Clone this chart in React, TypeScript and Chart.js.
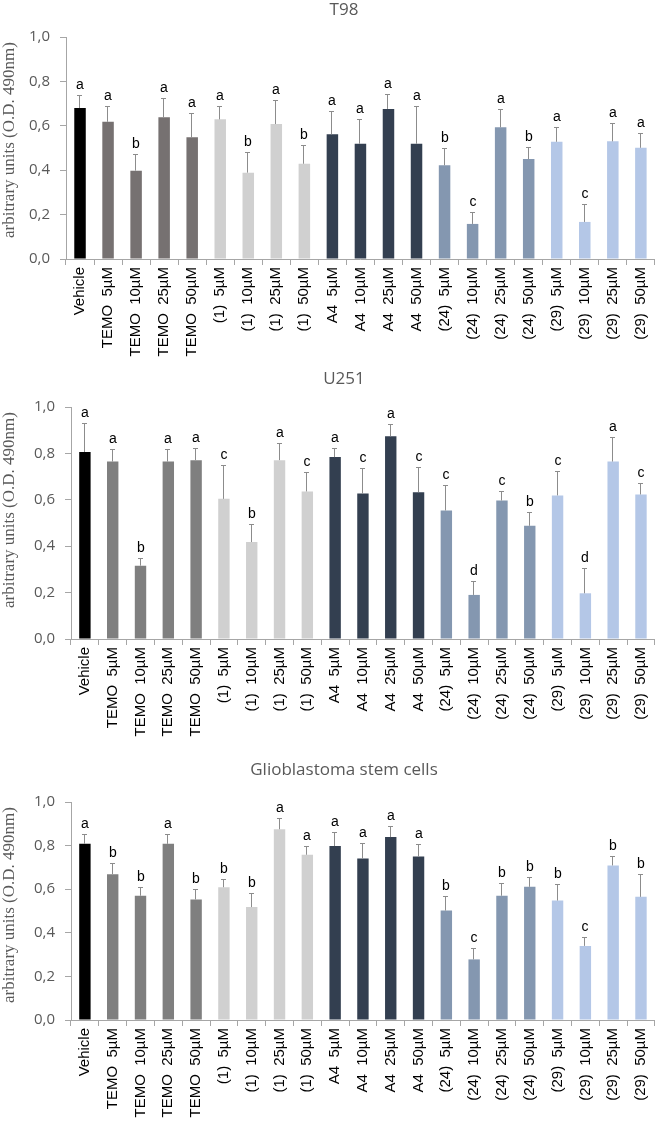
import React, { useEffect, useRef } from "react";
import { Chart, registerables } from "chart.js";
Chart.register(...registerables);

// ---------- data ----------
const categories = [
  "Vehicle",
  "TEMO  5µM", "TEMO  10µM", "TEMO  25µM", "TEMO  50µM",
  "(1)  5µM", "(1)  10µM", "(1)  25µM", "(1)  50µM",
  "A4  5µM", "A4  10µM", "A4  25µM", "A4  50µM",
  "(24)  5µM", "(24)  10µM", "(24)  25µM", "(24)  50µM",
  "(29)  5µM", "(29)  10µM", "(29)  25µM", "(29)  50µM",
];

const yTickValues = [0, 0.2, 0.4, 0.6, 0.8, 1.0];

const t98Values = [0.68, 0.618, 0.398, 0.638, 0.548, 0.629, 0.389, 0.608, 0.429, 0.562, 0.519, 0.676, 0.519, 0.422, 0.158, 0.593, 0.45, 0.528, 0.167, 0.53, 0.501];
const t98Errors = [0.06, 0.069, 0.075, 0.087, 0.11, 0.061, 0.091, 0.109, 0.084, 0.103, 0.111, 0.069, 0.171, 0.078, 0.054, 0.083, 0.053, 0.068, 0.081, 0.081, 0.066];
const t98Letters = ["a", "a", "b", "a", "a", "a", "b", "a", "b", "a", "a", "a", "a", "b", "c", "a", "b", "a", "c", "a", "a"];

const u251Values = [0.806, 0.765, 0.316, 0.765, 0.771, 0.604, 0.418, 0.771, 0.636, 0.784, 0.627, 0.874, 0.633, 0.554, 0.19, 0.597, 0.488, 0.619, 0.197, 0.765, 0.623];
const u251Errors = [0.127, 0.056, 0.035, 0.052, 0.054, 0.144, 0.076, 0.074, 0.083, 0.041, 0.108, 0.054, 0.109, 0.109, 0.06, 0.04, 0.06, 0.106, 0.108, 0.106, 0.05];
const u251Letters = ["a", "a", "b", "a", "a", "c", "b", "a", "c", "a", "c", "a", "c", "c", "d", "c", "b", "c", "d", "a", "c"];

const gscValues = [0.808, 0.669, 0.57, 0.808, 0.553, 0.609, 0.518, 0.875, 0.758, 0.798, 0.741, 0.839, 0.75, 0.502, 0.278, 0.57, 0.611, 0.548, 0.34, 0.709, 0.565];
const gscErrors = [0.043, 0.05, 0.039, 0.043, 0.047, 0.037, 0.064, 0.051, 0.038, 0.065, 0.072, 0.049, 0.057, 0.065, 0.052, 0.059, 0.046, 0.074, 0.043, 0.044, 0.106];
const gscLetters = ["a", "b", "b", "a", "b", "b", "b", "a", "a", "a", "a", "a", "a", "b", "c", "b", "b", "b", "c", "b", "b"];

// ---------- styles ----------
const groupSizes = [1, 4, 4, 4, 4, 4];
const t98GroupColors = ["#000000", "#767171", "#d0d0d0", "#333f50", "#8497b0", "#b4c7e7"];
const otherGroupColors = ["#000000", "#7f7f7f", "#d0d0d0", "#333f50", "#8497b0", "#b4c7e7"];

function expandColors(groupColors: string[]) {
  const out: string[] = [];
  groupSizes.forEach((n, g) => {
    for (let k = 0; k < n; k++) out.push(groupColors[g]);
  });
  return out;
}

const AXIS_COLOR = "#a6a6a6";
const TEXT_GRAY = "#595959";

type PanelProps = {
  title: string;
  values: number[];
  errors: number[];
  letters: string[];
  colors: string[];
  top: number;
  height: number;
  areaLeft: number;
  areaRight: number;
  areaTop: number;
  areaBottom: number;
  titleY: number;
  yTitleY: number;
};

const overlayPlugin = {
  id: "overlay",
  afterDatasetsDraw(chart: any, _args: any, opts: any) {
    const { ctx } = chart;
    const meta = chart.getDatasetMeta(0);
    const yScale = chart.scales.y;
    ctx.save();
    meta.data.forEach((bar: any, i: number) => {
      const v = opts.values[i];
      const e = opts.errors[i];
      const yTop = Math.round(yScale.getPixelForValue(v + e));
      const x = Math.round(bar.x);
      ctx.strokeStyle = "#8c8c8c";
      ctx.lineWidth = 1;
      ctx.beginPath();
      ctx.moveTo(x - 0.5, bar.y);
      ctx.lineTo(x - 0.5, yTop);
      ctx.moveTo(x - 3, yTop + 0.5);
      ctx.lineTo(x + 2, yTop + 0.5);
      ctx.stroke();
      ctx.fillStyle = "#000000";
      ctx.font = '14px "Liberation Sans", Arial, sans-serif';
      ctx.textAlign = "center";
      ctx.textBaseline = "alphabetic";
      ctx.fillText(opts.letters[i], x, yTop - 6);
    });
    // panel title
    ctx.fillStyle = TEXT_GRAY;
    ctx.font = '17px "Open Sans", sans-serif';
    ctx.textAlign = "center";
    ctx.textBaseline = "middle";
    ctx.fillText(opts.title, 344, opts.titleY);
    // y axis title
    ctx.translate(10, opts.yTitleY);
    ctx.rotate(-Math.PI / 2);
    ctx.font = '17px "Liberation Serif", serif';
    ctx.fillStyle = TEXT_GRAY;
    ctx.textAlign = "center";
    ctx.textBaseline = "middle";
    ctx.fillText("arbitrary units (O.D. 490nm)", 0, 0);
    ctx.restore();
  },
};

function Panel(p: PanelProps) {
  const ref = useRef<HTMLCanvasElement | null>(null);
  useEffect(() => {
    if (!ref.current) return;
    const chart = new Chart(ref.current, {
      type: "bar",
      data: {
        labels: categories,
        datasets: [
          {
            data: p.values,
            backgroundColor: p.colors,
            borderWidth: 0,
            barPercentage: 0.41,
            categoryPercentage: 1,
          },
        ],
      },
      options: {
        responsive: false,
        animation: false,
        devicePixelRatio: 1,
        layout: {
          padding: { top: p.areaTop, right: 661 - p.areaRight, left: 0, bottom: 0 },
        },
        plugins: {
          legend: { display: false },
          tooltip: { enabled: false },
          title: { display: false },
          overlay: {
            values: p.values,
            errors: p.errors,
            letters: p.letters,
            title: p.title,
            titleY: p.titleY,
            yTitleY: p.yTitleY,
          },
        } as any,
        scales: {
          x: {
            offset: true,
            grid: {
              offset: true,
              drawOnChartArea: false,
              drawTicks: true,
              tickLength: 6,
              color: AXIS_COLOR,
            },
            border: { display: true, color: AXIS_COLOR },
            ticks: {
              autoSkip: false,
              minRotation: 90,
              maxRotation: 90,
              padding: 2,
              color: "#000000",
              font: { family: '"Liberation Sans", Arial, sans-serif', size: 15 },
            },
            afterFit: (scale: any) => {
              scale.height = p.height - p.areaBottom;
            },
          },
          y: {
            min: 0,
            max: 1,
            afterBuildTicks: (scale: any) => {
              scale.ticks = yTickValues.map((v) => ({ value: v }));
            },
            grid: {
              drawOnChartArea: false,
              drawTicks: true,
              tickLength: 6,
              color: AXIS_COLOR,
            },
            border: { display: true, color: AXIS_COLOR },
            ticks: {
              padding: 10,
              color: TEXT_GRAY,
              font: { family: '"Open Sans", sans-serif', size: 15 },
              callback: (v: any) => Number(v).toFixed(1).replace(".", ","),
            },
            afterFit: (scale: any) => {
              scale.width = p.areaLeft;
            },
          },
        },
      },
      plugins: [overlayPlugin],
    });
    return () => chart.destroy();
  }, []);
  return (
    <canvas
      ref={ref}
      width={661}
      height={p.height}
      style={{ position: "absolute", left: 0, top: p.top, width: 661, height: p.height }}
    />
  );
}

export default function App() {
  return (
    <div style={{ position: "absolute", left: 0, top: 0, width: 661, height: 1129, background: "#ffffff" }}>
      <Panel
        title="T98"
        values={t98Values}
        errors={t98Errors}
        letters={t98Letters}
        colors={expandColors(t98GroupColors)}
        top={0}
        height={360}
        areaLeft={66}
        areaRight={655}
        areaTop={37}
        areaBottom={259}
        titleY={10}
        yTitleY={140}
      />
      <Panel
        title="U251"
        values={u251Values}
        errors={u251Errors}
        letters={u251Letters}
        colors={expandColors(otherGroupColors)}
        top={360}
        height={380}
        areaLeft={71}
        areaRight={660}
        areaTop={47}
        areaBottom={279}
        titleY={19}
        yTitleY={150}
      />
      <Panel
        title="Glioblastoma stem cells"
        values={gscValues}
        errors={gscErrors}
        letters={gscLetters}
        colors={expandColors(otherGroupColors)}
        top={740}
        height={389}
        areaLeft={71}
        areaRight={660}
        areaTop={62}
        areaBottom={280}
        titleY={30}
        yTitleY={165}
      />
    </div>
  );
}
